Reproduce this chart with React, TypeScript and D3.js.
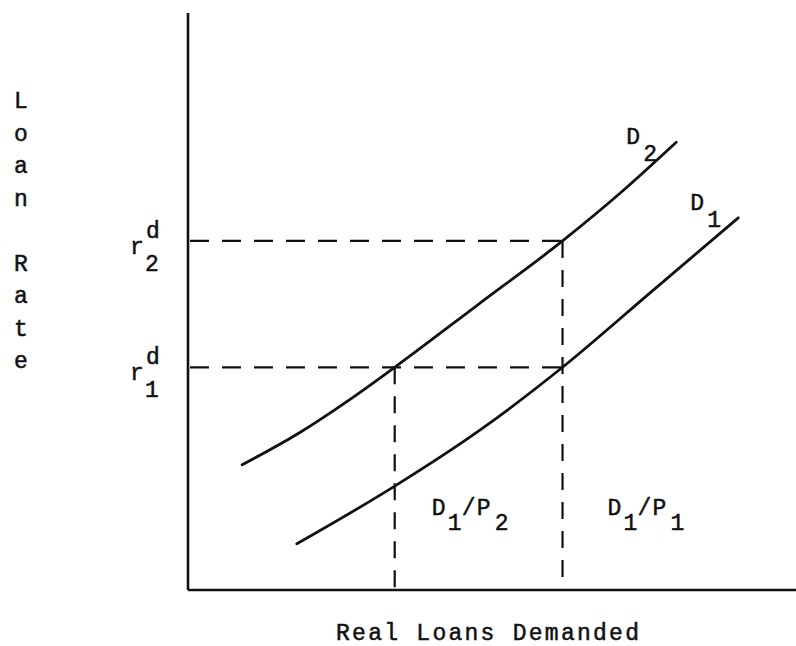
import React from "react";
import * as d3 from "d3";

// Abstract units (0..100) for both axes
const d2X = [8.9, 18.4, 26.6, 34.0, 47.5, 61.6, 71.1, 80.3];
const d2Y = [21.7, 27.3, 33.0, 38.6, 49.3, 60.5, 68.8, 77.6];
const d1X = [17.9, 34.0, 48.0, 61.6, 76.0, 90.5];
const d1Y = [8.0, 18.0, 27.7, 38.6, 51.5, 64.5];

const rateLevels = [38.6, 60.5]; // r1, r2
const rateSubs = ["1", "2"];
const quantityLevels = [34.0, 61.6]; // D1/P2, D1/P1
const quantityTop = [38.6, 60.5];
const regionLabels = [
  { num: "1", den: "2" },
  { num: "1", den: "1" },
];
const curveLabels = ["2", "1"];
const yTitle = ["L", "o", "a", "n", "", "R", "a", "t", "e"];
const xTitle = "Real Loans Demanded";

const W = 796;
const H = 646;
const FONT = "'Liberation Mono', 'Courier New', monospace";
const INK = "#111";

export default function App() {
  const x = d3.scaleLinear().domain([0, 100]).range([188, 796]);
  const y = d3.scaleLinear().domain([0, 100]).range([590, 13]);

  const line = d3
    .line<[number, number]>()
    .x((d) => x(d[0]))
    .y((d) => y(d[1]))
    .curve(d3.curveMonotoneX);

  const d2Pts: [number, number][] = d2X.map((v, i) => [v, d2Y[i]]);
  const d1Pts: [number, number][] = d1X.map((v, i) => [v, d1Y[i]]);

  const fs = 23;
  const curveEnds = [d2Pts[d2Pts.length - 1], d1Pts[d1Pts.length - 1]];
  const textStyle = { stroke: INK, strokeWidth: 0.5 };

  return (
    <svg
      width={W}
      height={H}
      style={{ position: "absolute", left: 0, top: 0, background: "#fff" }}
      fontFamily={FONT}
      fill={INK}
    >
      <rect x={0} y={0} width={W} height={H} fill="#fff" />
      {/* axes */}
      <line x1={x(0)} y1={y(100)} x2={x(0)} y2={y(0)} stroke={INK} strokeWidth={2.6} />
      <line x1={x(0)} y1={y(0)} x2={x(100)} y2={y(0)} stroke={INK} strokeWidth={2.6} />

      {/* dashed guides */}
      {rateLevels.map((r, i) => (
        <line
          key={"h" + i}
          x1={x(0) + 2}
          x2={x(quantityLevels[1])}
          y1={y(r)}
          y2={y(r)}
          stroke={INK}
          strokeWidth={2.2}
          strokeDasharray="19 13"
        />
      ))}
      {quantityLevels.map((q, i) => (
        <line
          key={"v" + i}
          x1={x(q)}
          x2={x(q)}
          y1={y(quantityTop[i])}
          y2={y(0)}
          stroke={INK}
          strokeWidth={2.2}
          strokeDasharray="17 12"
        />
      ))}

      {/* demand curves */}
      <path d={line(d2Pts) || ""} fill="none" stroke={INK} strokeWidth={2.8} strokeLinecap="round" />
      <path d={line(d1Pts) || ""} fill="none" stroke={INK} strokeWidth={2.8} strokeLinecap="round" />

      <g style={textStyle} fontSize={fs}>
        {/* curve labels */}
        {curveLabels.map((s, i) => {
          const [cx, cy] = curveEnds[i];
          const px = x(cx) - 50 + (i === 1 ? 2 : 0);
          const py = y(cy) + 2 - (i === 1 ? 10 : 0);
          return (
            <g key={"cl" + i}>
              <text x={px} y={py}>D</text>
              <text x={px + 17} y={py + 17}>{s}</text>
            </g>
          );
        })}

        {/* rate labels */}
        {rateLevels.map((r, i) => {
          const by = y(r) + 13;
          return (
            <g key={"rl" + i}>
              <text x={130} y={by}>r</text>
              <text x={146} y={by - 16}>d</text>
              <text x={145} y={by + 17}>{rateSubs[i]}</text>
            </g>
          );
        })}

        {/* region labels */}
        {regionLabels.map((l, i) => {
          const bx = x(quantityLevels[i]) + 37 + (i === 1 ? 8 : 0);
          const by = 515;
          return (
            <g key={"rg" + i}>
              <text x={bx} y={by}>D</text>
              <text x={bx + 16} y={by + 15}>{l.num}</text>
              <text x={bx + 30} y={by}>/</text>
              <text x={bx + 45} y={by}>P</text>
              <text x={bx + 63} y={by + 15}>{l.den}</text>
            </g>
          );
        })}

        {/* axis titles */}
        {yTitle.map((c, i) => (
          <text key={"yt" + i} x={21} y={108 + i * 32.5} textAnchor="middle">
            {c}
          </text>
        ))}
        <text x={336} y={640} textLength={303} lengthAdjust="spacing">
          {xTitle}
        </text>
      </g>
    </svg>
  );
}
